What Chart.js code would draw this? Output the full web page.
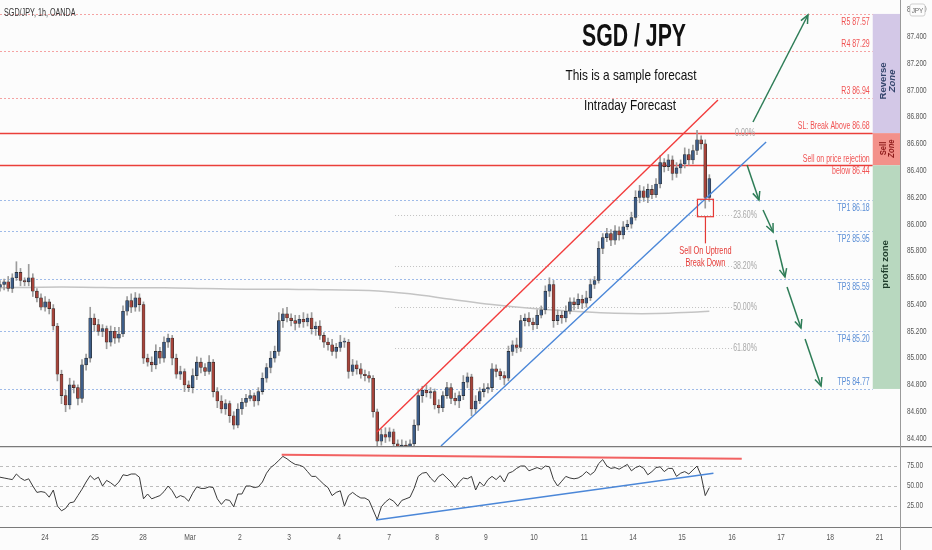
<!DOCTYPE html>
<html><head><meta charset="utf-8">
<script src="https://cdn.jsdelivr.net/npm/chart.js@4.4.1/dist/chart.umd.min.js"></script>
<style>
html,body{margin:0;padding:0;background:#fcfcfc;}
#wrap{position:relative;width:932px;height:550px;overflow:hidden;background:#fcfcfc;}
#c1{position:absolute;left:0;top:0;}
#c2{position:absolute;left:0;top:446px;}
</style></head><body>
<div id="wrap"><canvas id="c1" width="932" height="446"></canvas><canvas id="c2" width="932" height="104"></canvas></div>
<script>
// ---------------- DATA ----------------
const hoursPerBar = 2;
const firstOpen = 85.53;
const closes = [
85.55,85.57,85.52,85.60,85.64,85.58,85.57,85.60,85.50,85.45,
85.38,85.42,85.37,85.24,84.88,84.72,84.65,84.80,84.78,84.70,
84.95,85.00,85.30,85.25,85.20,85.22,85.12,85.20,85.15,85.18,
85.35,85.43,85.38,85.45,85.40,85.00,84.97,84.95,85.05,85.00,
85.12,85.15,85.00,84.88,84.90,84.80,84.78,84.87,84.97,84.93,
84.90,84.97,84.75,84.68,84.62,84.66,84.57,84.50,84.62,84.67,
84.70,84.72,84.68,84.75,84.85,84.93,85.00,85.05,85.28,85.33,
85.30,85.28,85.26,85.29,85.27,85.30,85.22,85.24,85.17,85.12,
85.10,85.05,85.08,85.12,85.12,84.90,84.95,84.92,84.88,84.87,
84.85,84.60,84.38,84.43,84.41,84.45,84.36,84.33,84.35,84.32,
84.36,84.50,84.72,84.76,84.74,84.75,84.65,84.63,84.72,84.78,
84.70,84.68,84.72,84.82,84.86,84.62,84.68,84.75,84.77,84.78,
84.92,84.90,84.87,84.85,85.05,85.10,85.08,85.28,85.30,85.27,
85.25,85.32,85.36,85.50,85.55,85.28,85.32,85.30,85.35,85.42,
85.40,85.44,85.41,85.45,85.55,85.58,85.82,85.90,85.93,85.88,
85.95,85.92,85.98,86.00,86.05,86.20,86.25,86.20,86.26,86.22,
86.30,86.46,86.43,86.48,86.38,86.42,86.45,86.52,86.48,86.55,
86.63,86.60,86.20,86.34];
// wick lengths beyond the body, in hundredths of a yen
const wickHi = [
3,2,4,3,8,3,2,10,3,2, 3,4,2,3,2,3,4,5,3,2, 4,3,8,3,4,3,2,4,3,5, 4,3,5,4,3,2,3,4,5,3,
4,3,2,3,4,2,3,5,4,3, 3,5,2,3,4,3,2,3,4,3, 3,4,2,3,4,3,5,4,6,4, 5,3,4,3,5,3,4,3,4,2,
3,4,3,5,3,2,4,3,4,3, 3,2,2,4,5,3,2,3,4,3, 3,4,5,3,4,3,2,4,3,4, 3,4,3,5,3,2,4,3,4,3,
4,3,2,3,4,3,5,4,3,4, 3,4,3,4,5,3,4,3,4,3, 3,4,3,5,4,3,5,3,4,3, 4,3,4,3,4,5,4,3,4,3,
4,5,3,4,3,4,3,5,4,4, 7,3,3,3];
const wickLo = [
3,4,2,3,2,4,3,3,4,3, 2,3,4,3,5,6,5,3,4,5, 3,4,3,5,3,4,5,3,4,3, 2,3,4,3,5,4,3,5,3,4,
3,4,5,3,4,5,3,4,3,4, 3,2,4,5,3,4,5,3,2,4, 3,2,4,3,2,3,4,3,3,5, 3,4,5,3,4,3,4,5,3,4,
4,3,5,3,4,5,3,4,3,4, 3,4,4,3,4,3,5,3,4,3, 4,3,4,5,3,4,3,4,3,2, 4,3,5,3,4,5,3,2,4,3,
3,4,3,5,2,3,4,3,4,3, 4,3,2,3,4,5,3,4,3,2, 4,3,4,3,2,3,2,4,3,4, 3,4,3,2,3,2,4,3,4,3,
2,3,4,3,5,3,4,3,4,3, 3,4,8,3];
const rsi = [
61,60,59,58,65,60,57,59,50,42, 43,42,36,45,25,19,22,29,30,38, 46,55,63,58,61,50,57,54,50,55,
64,63,65,65,61,34,40,34,36,38, 43,50,44,35,38,36,31,41,49,47, 47,49,48,34,27,33,32,24,40,40,
50,50,48,49,55,66,73,77,82,87, 84,80,77,76,74,68,62,62,57,52, 48,38,42,44,25,38,42,38,35,35,
32,20,8,24,30,34,31,25,32,34, 36,47,62,66,67,60,55,62,65,60, 55,48,55,60,59,62,45,55,50,58,
62,58,63,55,66,68,72,75,75,69, 71,73,71,75,74,58,50,56,62,60, 59,60,63,68,64,68,78,83,75,72,
73,71,74,77,69,73,75,72,64,68, 73,74,68,72,72,62,66,68,65,70, 75,63,38,48];
// 200 moving average, read every 20 hours
const maHours = [0,20,40,60,80,100,120,140,160,180,200,220,240,260,280,300,320,340,346];
const maValues = [85.525,85.53,85.53,85.525,85.525,85.52,85.515,85.515,85.51,85.505,85.48,85.44,85.40,85.37,85.35,85.335,85.333,85.345,85.35];
// x axis (hours) and day labels
const dayTicks = [22,46.3,69.8,92.7,117,141,165.4,189.8,213.2,237,260.5,285,308.8,332.7,357,381,405,429];
const dayLabels = ['24','25','28','Mar','2','3','4','7','8','9','10','11','14','15','16','17','18','21'];
const priceTicks = [84.4,84.6,84.8,85.0,85.2,85.4,85.6,85.8,86.0,86.2,86.4,86.6,86.8,87.0,87.2,87.4,87.6];
const rsiTicks = [25,50,75];
// forecast levels
const levelLabels = ['R5 87.57','R4 87.29','R3 86.94','SL: Break Above 86.68','Sell on price rejection|below 86.44','TP1 86.18','TP2 85.95','TP3 85.59','TP4 85.20','TP5 84.77'];
const levelValues = [87.57,87.29,86.94,86.68,86.44,86.18,85.95,85.59,85.20,84.77];
// fibonacci retracement
const fibHigh = 86.68, fibLow = 84.08;
const fibRatios = [0,0.236,0.382,0.5,0.618];
const fibLabels = ['0.00%','23.60%','38.20%','50.00%','61.80%'];
// zones [low, high]
const zoneReverse = [86.68,87.57], zoneSell = [86.44,86.68], zoneProfit = [84.77,86.44];

// ---------------- ANNOTATION GEOMETRY (data coords: hours, price) ----------------
const xMaxHours = 439;
const levelLineEnd = 425.7;
const fibStart = 192.7, fibEnd = 357.1, fibLabelAt = 363.4;
const redChannel = [183.9,84.448,350.2,86.927];
const blueChannel = [215.1,84.344,373.7,86.613];
const breakBox = [340.2,86.056,348.0,86.186];
const breakStemEnd = 85.857;
const arrowUp = [[367.3,86.763,394.1,87.562]];
const arrowsDown = [[364.4,86.442,370.2,86.181],[372.2,86.106,377.1,85.942],[378.5,85.882,382.9,85.606],[383.9,85.531,390.7,85.225],[392.7,85.143,400.5,84.792]];
const rsiRed = [137.4,89.1,361.8,84.1];
const rsiBlue = [183.4,7.5,348,65.9];

// ---------------- STYLE ----------------
const FONT = "'Liberation Sans', Arial, sans-serif";
const SX = 0.7; // horizontal squeeze of all text (reference text is narrow)
Chart.defaults.font.family = FONT;
const UP = '#3d5d88', DOWN = '#a6443b';
const levelStyles = [
 {c:'#f5a3a3',dash:[2,2],w:1,tc:'#f05252',pos:'below'},
 {c:'#f5a3a3',dash:[2,2],w:1,tc:'#f05252',pos:'above'},
 {c:'#f5a3a3',dash:[2,2],w:1,tc:'#f05252',pos:'above'},
 {c:'#ea3f3a',dash:[],w:1.5,tc:'#f05252',pos:'above'},
 {c:'#ea3f3a',dash:[],w:1.5,tc:'#f05252',pos:'split'},
 {c:'#9fbbe8',dash:[2,2],w:1,tc:'#5a8ed6',pos:'below'},
 {c:'#9fbbe8',dash:[2,2],w:1,tc:'#5a8ed6',pos:'below'},
 {c:'#9fbbe8',dash:[2,2],w:1,tc:'#5a8ed6',pos:'below'},
 {c:'#9fbbe8',dash:[2,2],w:1,tc:'#5a8ed6',pos:'below'},
 {c:'#9fbbe8',dash:[2,2],w:1,tc:'#5a8ed6',pos:'above'}];

// ---------------- DERIVED DATASETS ----------------
const opens = closes.map((c,i)=> i===0 ? firstOpen : closes[i-1]);
const bodies = closes.map((c,i)=>({x:i*hoursPerBar, y:[opens[i], c]}));
const wicks = closes.map((c,i)=>({x:i*hoursPerBar, y:[Math.min(opens[i],c)-wickLo[i]/100, Math.max(opens[i],c)+wickHi[i]/100]}));
const bodyColors = closes.map((c,i)=> c>=opens[i] ? UP : DOWN);

function T(ctx, str, x, y, font, color, align, baseline, sx){
  ctx.save();
  ctx.translate(x,y); ctx.scale(sx||SX,1);
  ctx.font=font; ctx.fillStyle=color; ctx.textAlign=align||'left'; ctx.textBaseline=baseline||'middle';
  ctx.fillText(str,0,0);
  ctx.restore();
}
function arrow(ctx,x1,y1,x2,y2){
  ctx.beginPath(); ctx.moveTo(x1,y1); ctx.lineTo(x2,y2); ctx.stroke();
  const a=Math.atan2(y2-y1,x2-x1), L=9, s=0.42;
  ctx.beginPath();
  ctx.moveTo(x2-L*Math.cos(a-s), y2-L*Math.sin(a-s));
  ctx.lineTo(x2,y2);
  ctx.lineTo(x2-L*Math.cos(a+s), y2-L*Math.sin(a+s));
  ctx.stroke();
}
function noPad(s){ s.paddingTop=0; s.paddingBottom=0; s.paddingLeft=0; s.paddingRight=0; }

const pricePlugin = {
  id:'pricePlugin',
  beforeDatasetsDraw(chart){
    const {ctx, chartArea:a, scales:{x,y}} = chart;
    ctx.save();
    ctx.beginPath(); ctx.rect(a.left,a.top,a.right-a.left,a.bottom-a.top); ctx.clip();
    ctx.strokeStyle='#c2c2c2'; ctx.lineWidth=1; ctx.setLineDash([1,2]);
    fibRatios.forEach(r=>{
      const py=Math.round(y.getPixelForValue(fibHigh-r*(fibHigh-fibLow)))+0.5;
      ctx.beginPath(); ctx.moveTo(x.getPixelForValue(fibStart),py); ctx.lineTo(x.getPixelForValue(fibEnd),py); ctx.stroke();
    });
    levelValues.forEach((v,i)=>{
      const st=levelStyles[i]; const py=Math.round(y.getPixelForValue(v))+0.5;
      ctx.strokeStyle=st.c; ctx.lineWidth=st.w; ctx.setLineDash(st.dash);
      ctx.beginPath(); ctx.moveTo(a.left,py); ctx.lineTo(x.getPixelForValue(levelLineEnd),py); ctx.stroke();
    });
    ctx.restore();
  },
  afterDatasetsDraw(chart){
    const {ctx, chartArea:a, scales:{x,y}} = chart;
    const X=v=>x.getPixelForValue(v), Y=v=>y.getPixelForValue(v);
    ctx.save();
    ctx.beginPath(); ctx.rect(a.left,a.top,a.right-a.left,a.bottom-a.top); ctx.clip();
    const zl=X(levelLineEnd);
    [[zoneReverse,'#d3c8e7'],[zoneSell,'#f3918a'],[zoneProfit,'#b8d8bf']].forEach(([z,c])=>{
      ctx.fillStyle=c; ctx.fillRect(zl, Y(z[1]), a.right-zl, Y(z[0])-Y(z[1]));
    });
    ctx.setLineDash([]);
    ctx.lineWidth=1.4; ctx.strokeStyle='#f23c3c';
    ctx.beginPath(); ctx.moveTo(X(redChannel[0]),Y(redChannel[1])); ctx.lineTo(X(redChannel[2]),Y(redChannel[3])); ctx.stroke();
    ctx.strokeStyle='#4b87d8';
    ctx.beginPath(); ctx.moveTo(X(blueChannel[0]),Y(blueChannel[1])); ctx.lineTo(X(blueChannel[2]),Y(blueChannel[3])); ctx.stroke();
    ctx.strokeStyle='#e53935'; ctx.lineWidth=1.2;
    ctx.strokeRect(X(breakBox[0]), Y(breakBox[3]), X(breakBox[2])-X(breakBox[0]), Y(breakBox[1])-Y(breakBox[3]));
    const bx=(X(breakBox[0])+X(breakBox[2]))/2;
    ctx.beginPath(); ctx.moveTo(bx,Y(breakBox[1])); ctx.lineTo(bx,Y(breakStemEnd)); ctx.stroke();
    T(ctx,'Sell On Uptrend', bx, Y(breakStemEnd)+8, '10.5px '+FONT, '#e53935','center');
    T(ctx,'Break Down', bx, Y(breakStemEnd)+20, '10.5px '+FONT, '#e53935','center');
    ctx.strokeStyle='#2e7d57'; ctx.lineWidth=1.5;
    arrowUp.concat(arrowsDown).forEach(p=>arrow(ctx,X(p[0]),Y(p[1]),X(p[2]),Y(p[3])));
    fibRatios.forEach((r,i)=> T(ctx, fibLabels[i], X(fibLabelAt), Y(fibHigh-r*(fibHigh-fibLow)), '10px '+FONT, '#a8a8a8','center'));
    const lx=X(levelLineEnd)-3;
    levelValues.forEach((v,i)=>{
      const st=levelStyles[i], py=Y(v), f='10px '+FONT;
      if(st.pos==='split'){
        const parts=levelLabels[i].split('|');
        T(ctx,parts[0],lx,py-1,f,st.tc,'right','bottom');
        T(ctx,parts[1],lx,py+1,f,st.tc,'right','top');
      } else if(st.pos==='above'){ T(ctx,levelLabels[i],lx,py-2,f,st.tc,'right','bottom'); }
      else { T(ctx,levelLabels[i],lx,py+3,f,st.tc,'right','top'); }
    });
    const zc=(zl+a.right)/2;
    function vtext(lines, cx, cy, color, fonts, gap, sx){
      ctx.save(); ctx.translate(cx,cy); ctx.rotate(-Math.PI/2);
      lines.forEach((t,k)=> T(ctx,t,0,(k-(lines.length-1)/2)*gap,fonts[k],color,'center','middle',sx));
      ctx.restore();
    }
    vtext(['Reverse','Zone'], zc+1.5, Y(87.07), '#34456c', ['bold 9.5px '+FONT,'italic bold 9.5px '+FONT], 8.5, 1.0);
    vtext(['Sell','Zone'], zc+1.5, Y(86.565), '#8e1b1b', ['bold 8.5px '+FONT,'italic bold 8.5px '+FONT], 8, 0.9);
    vtext(['profit zone'], zc-1, Y(85.70), '#1d3b2a', ['bold 9.5px '+FONT], 8, 1.0);
    ctx.restore();
    ctx.save();
    ctx.fillStyle='#111'; ctx.textAlign='center'; ctx.textBaseline='middle';
    ctx.font='bold 32px '+FONT; ctx.fillText('SGD / JPY', 634, 37, 104);
    ctx.font='15px '+FONT; ctx.fillText('This is a sample forecast', 631, 76, 131);
    ctx.fillText('Intraday Forecast', 630, 106, 92);
    ctx.restore();
    T(ctx,'SGD/JPY, 1h, OANDA', 4, 13, '10px '+FONT, '#333', 'left', 'middle', 0.72);
    y.ticks.forEach(t=> T(ctx, Number(t.value).toFixed(3), a.right+7, Y(t.value), '8.5px '+FONT, '#555', 'left', 'middle', 0.75));
    ctx.save();
    ctx.strokeStyle='#9a9a9a'; ctx.lineWidth=1;
    ctx.beginPath(); ctx.moveTo(a.right+0.5,0); ctx.lineTo(a.right+0.5,chart.height); ctx.stroke();
    const bxl=a.right+10, byt=4;
    ctx.fillStyle='#fcfcfc'; ctx.strokeStyle='#cfcfcf';
    ctx.beginPath(); ctx.roundRect(bxl,byt,15,12,2); ctx.fill(); ctx.stroke();
    ctx.restore();
    T(ctx,'JPY', bxl+7.5, byt+6.5, '8px '+FONT, '#666', 'center', 'middle', 0.8);
  }
};

new Chart(document.getElementById('c1'), {
  type:'bar',
  data:{datasets:[
    {type:'bar', data:bodies, backgroundColor:bodyColors, borderColor:'#2a2a2a', borderWidth:0.6, borderSkipped:false, barThickness:3, grouped:false, minBarLength:1},
    {type:'bar', data:wicks, backgroundColor:'#9c9c9c', borderWidth:0, barThickness:1, grouped:false},
    {type:'line', data:maHours.map((h,i)=>({x:h,y:maValues[i]})), borderColor:'#c4c4c4', borderWidth:1.5, pointRadius:0, tension:0.4}
  ]},
  options:{
    responsive:false, animation:false, devicePixelRatio:1,
    layout:{padding:0},
    plugins:{legend:{display:false}, tooltip:{enabled:false}},
    scales:{
      x:{type:'linear', min:0, max:xMaxHours, display:false, offset:false, grid:{offset:false}},
      y:{position:'right', min:84.344, max:87.674,
         afterFit(s){ s.width=32; noPad(s); },
         afterBuildTicks(s){ s.ticks=priceTicks.map(v=>({value:v})); },
         ticks:{display:false},
         grid:{display:false, drawTicks:false}, border:{display:false}}
    }
  },
  plugins:[pricePlugin]
});

const rsiPlugin = {
  id:'rsiPlugin',
  beforeDatasetsDraw(chart){
    const {ctx, chartArea:a, scales:{y}} = chart;
    ctx.save(); ctx.strokeStyle='#bdbdbd'; ctx.lineWidth=1; ctx.setLineDash([3,3]);
    rsiTicks.forEach(v=>{ const py=Math.round(y.getPixelForValue(v))+0.5; ctx.beginPath(); ctx.moveTo(a.left,py); ctx.lineTo(a.right,py); ctx.stroke(); });
    ctx.restore();
  },
  afterDatasetsDraw(chart){
    const {ctx, chartArea:a, scales:{x,y}} = chart;
    const X=v=>x.getPixelForValue(v), Y=v=>y.getPixelForValue(v);
    ctx.save();
    ctx.lineWidth=2; ctx.strokeStyle='rgba(240,70,70,0.85)';
    ctx.beginPath(); ctx.moveTo(X(rsiRed[0]),Y(rsiRed[1])); ctx.lineTo(X(rsiRed[2]),Y(rsiRed[3])); ctx.stroke();
    ctx.lineWidth=1.5; ctx.strokeStyle='#4b87d8';
    ctx.beginPath(); ctx.moveTo(X(rsiBlue[0]),Y(rsiBlue[1])); ctx.lineTo(X(rsiBlue[2]),Y(rsiBlue[3])); ctx.stroke();
    ctx.strokeStyle='#7a7a7a'; ctx.lineWidth=1.2;
    ctx.beginPath(); ctx.moveTo(0,0.6); ctx.lineTo(chart.width,0.6); ctx.stroke();
    ctx.beginPath(); ctx.moveTo(0,a.bottom+0.5); ctx.lineTo(chart.width,a.bottom+0.5); ctx.stroke();
    ctx.strokeStyle='#9a9a9a'; ctx.lineWidth=1;
    ctx.beginPath(); ctx.moveTo(a.right+0.5,0); ctx.lineTo(a.right+0.5,chart.height); ctx.stroke();
    ctx.restore();
    y.ticks.forEach(t=> T(ctx, Number(t.value).toFixed(2), a.right+7, Y(t.value), '8.5px '+FONT, '#555', 'left', 'middle', 0.75));
    x.ticks.forEach((t,i)=> T(ctx, dayLabels[i], X(t.value), a.bottom+10.5, '9px '+FONT, '#555', 'center', 'middle', 0.75));
  }
};

new Chart(document.getElementById('c2'), {
  type:'line',
  data:{datasets:[
    {data:rsi.map((v,i)=>({x:i*hoursPerBar,y:v})), borderColor:'#3a3a3a', borderWidth:1, pointRadius:0, tension:0}
  ]},
  options:{
    responsive:false, animation:false, devicePixelRatio:1,
    layout:{padding:{top:1,left:0,right:0,bottom:0}},
    plugins:{legend:{display:false}, tooltip:{enabled:false}},
    scales:{
      x:{type:'linear', min:0, max:xMaxHours, position:'bottom',
         afterFit(s){ s.height=23; noPad(s); },
         afterBuildTicks(s){ s.ticks=dayTicks.map(v=>({value:v})); },
         ticks:{display:false},
         grid:{display:false, drawTicks:false}, border:{display:false}},
      y:{position:'right', min:-1.25, max:98.75,
         afterFit(s){ s.width=32; noPad(s); },
         afterBuildTicks(s){ s.ticks=rsiTicks.map(v=>({value:v})); },
         ticks:{display:false},
         grid:{display:false, drawTicks:false}, border:{display:false}}
    }
  },
  plugins:[rsiPlugin]
});
</script>
</body></html>
